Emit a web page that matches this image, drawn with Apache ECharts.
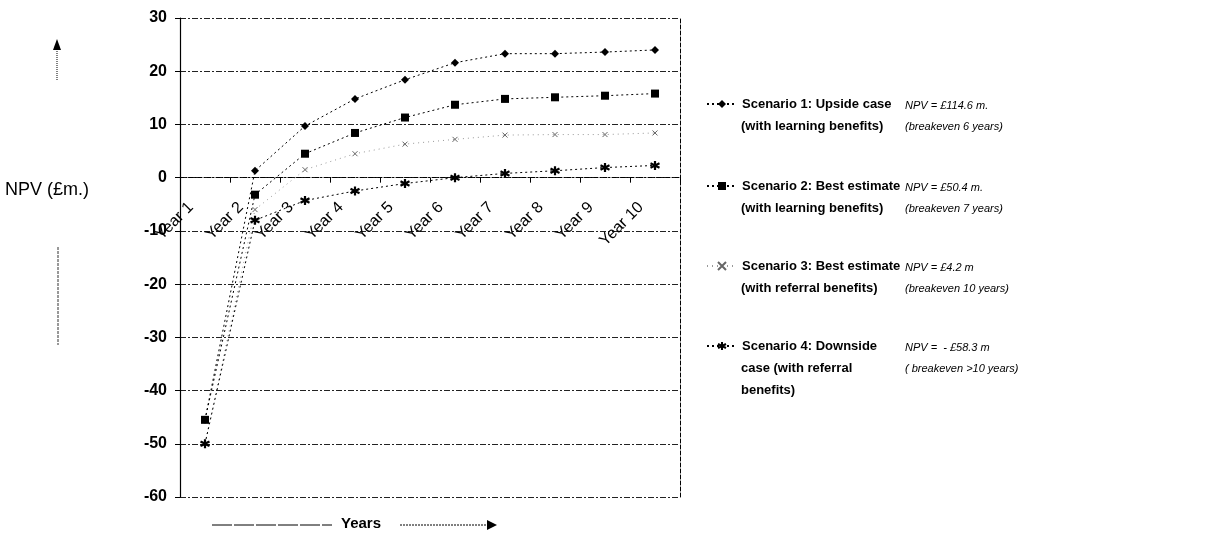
<!DOCTYPE html>
<html>
<head>
<meta charset="utf-8">
<script src="https://cdn.jsdelivr.net/npm/echarts@6/dist/echarts.min.js"></script>
<style>
html,body{margin:0;padding:0;background:#fff;}
#chart{width:1210px;height:542px;}
</style>
</head>
<body>
<div id="chart"></div>
<script>
const categories = ['Year 1','Year 2','Year 3','Year 4','Year 5','Year 6','Year 7','Year 8','Year 9','Year 10'];
const scenario1 = [-45.5, 1.3, 9.7, 14.8, 18.4, 21.6, 23.3, 23.3, 23.6, 24.0];
const scenario2 = [-45.5, -3.2, 4.5, 8.4, 11.3, 13.7, 14.8, 15.1, 15.4, 15.8];
const scenario3 = [-50, -6, 1.5, 4.5, 6.3, 7.2, 8.0, 8.1, 8.1, 8.4];
const scenario4 = [-50, -8.0, -4.3, -2.5, -1.1, 0.0, 0.8, 1.3, 1.9, 2.3];
const seriesNames = [
  'Scenario 1: Upside case\n(with learning benefits)',
  'Scenario 2: Best estimate\n(with learning benefits)',
  'Scenario 3: Best estimate\n(with referral benefits)',
  'Scenario 4: Downside\ncase (with referral\nbenefits)'
];
const npvNotes = [
  'NPV = £114.6 m.\n(breakeven 6 years)',
  'NPV = £50.4 m.\n(breakeven 7 years)',
  'NPV = £4.2 m\n(breakeven 10 years)',
  'NPV =  - £58.3 m\n( breakeven >10 years)'
];
const yMin = -60, yMax = 30, yStep = 10;
const yAxisName = 'NPV (£m.)';
const xAxisName = 'Years';

const FONT = '"Liberation Sans", Arial, sans-serif';
const chart = echarts.init(document.getElementById('chart'), null, {renderer:'canvas'});

const GRID = {left: 180, right: 530, top: 18, bottom: 45};
const plotH = 542 - GRID.top - GRID.bottom;
const zeroOffset = -plotH * (0 - yMin) / (yMax - yMin);

const symbols = [
  'diamond',
  'rect',
  'path://M0,0L10,10M10,0L0,10',
  'path://M5,0L5,10M0.7,2.5L9.3,7.5M0.7,7.5L9.3,2.5'
];
const symbolSizes = [8, 8, 5, 9];
const datas = [scenario1, scenario2, scenario3, scenario4];
const legendTops = [93, 175, 255, 335];

const series = datas.map((d, i) => ({
  name: seriesNames[i],
  type: 'line',
  data: d,
  symbol: symbols[i],
  symbolSize: symbolSizes[i],
  showAllSymbol: true,
  lineStyle: i === 2
    ? {color: '#999', width: 1, type: [1, 4]}
    : {color: '#000', width: 1, type: [2, 3]},
  itemStyle: i >= 2
    ? {color: '#000', borderColor: i === 2 ? '#666' : '#000', borderWidth: i === 2 ? 1 : 2.2}
    : {color: '#000'},
  z: 3
}));

const legends = seriesNames.map((n, i) => ({
  data: [n],
  left: 706,
  top: legendTops[i],
  padding: 0,
  orient: 'vertical',
  itemWidth: 30,
  itemHeight: 10,
  itemGap: 0,
  selectedMode: false,
  formatter: (name) => name.split('\n')[0],
  textStyle: {fontFamily: FONT, fontSize: 13, fontWeight: 'bold', color: '#000', lineHeight: 22}
}));

const graphics = [];
seriesNames.forEach((n, i) => {
  const rest = n.split('\n').slice(1).join('\n');
  graphics.push({
    type: 'text', left: 741, top: legendTops[i] + 22,
    style: {text: rest, font: 'bold 13px ' + FONT, fill: '#000', lineHeight: 22}
  });
});
npvNotes.forEach((t, i) => {
  graphics.push({
    type: 'text', left: 905, top: legendTops[i] + 2,
    style: {text: t, font: 'italic 11px ' + FONT, fill: '#000', lineHeight: 21}
  });
});
graphics.push(
  {type: 'text', left: 5, top: 181, style: {text: yAxisName, font: '18px ' + FONT, fill: '#000'}},
  {type: 'line', shape: {x1: 57, y1: 80, x2: 57, y2: 48}, style: {stroke: '#000', lineWidth: 1, lineDash: [1, 1]}},
  {type: 'polygon', shape: {points: [[53, 50], [61, 50], [57, 39]]}, style: {fill: '#000'}},
  {type: 'line', shape: {x1: 58, y1: 247, x2: 58, y2: 345}, style: {stroke: '#333', lineWidth: 1, lineDash: [3, 1]}},
  {type: 'text', left: 341, top: 516, style: {text: xAxisName, font: 'bold 15px ' + FONT, fill: '#000'}},
  {type: 'line', shape: {x1: 212, y1: 525, x2: 332, y2: 525}, style: {stroke: '#000', lineWidth: 1, lineDash: [20, 2]}},
  {type: 'line', shape: {x1: 400, y1: 525, x2: 488, y2: 525}, style: {stroke: '#000', lineWidth: 1, lineDash: [2, 1]}},
  {type: 'polygon', shape: {points: [[487, 520], [487, 530], [497, 525]]}, style: {fill: '#000'}}
);

const option = {
  backgroundColor: '#fff',
  animation: false,
  grid: Object.assign({containLabel: false, outerBoundsMode: 'none'}, GRID),
  legend: legends,
  xAxis: {
    type: 'category',
    data: categories,
    boundaryGap: true,
    position: 'bottom',
    offset: zeroOffset,
    axisLine: {onZero: false, lineStyle: {color: '#000', width: 1, type: [4, 2, 1, 2]}},
    axisTick: {show: true, length: 5, lineStyle: {color: '#000'}},
    axisLabel: {
      interval: 0, rotate: 45, margin: 13, padding: [0, 20, 0, 0],
      fontFamily: FONT, fontSize: 16, color: '#000'
    },
    splitLine: {show: false}
  },
  yAxis: [{
    type: 'value',
    min: yMin, max: yMax, interval: yStep,
    axisLine: {show: true, lineStyle: {color: '#000', width: 1.2}},
    axisTick: {show: true, length: 5, lineStyle: {color: '#000'}},
    axisLabel: {fontFamily: FONT, fontSize: 16, fontWeight: 'bold', color: '#000', margin: 13},
    splitLine: {show: true, lineStyle: {color: '#222', width: 1, type: [6, 2, 2, 2]}}
  }, {
    type: 'value',
    position: 'right',
    min: yMin, max: yMax, interval: yStep,
    axisLine: {show: true, lineStyle: {color: '#000', width: 1, type: [4, 2]}},
    axisTick: {show: false},
    axisLabel: {show: false},
    splitLine: {show: false}
  }],
  series: series,
  graphic: graphics
};
chart.setOption(option);
</script>
</body>
</html>
